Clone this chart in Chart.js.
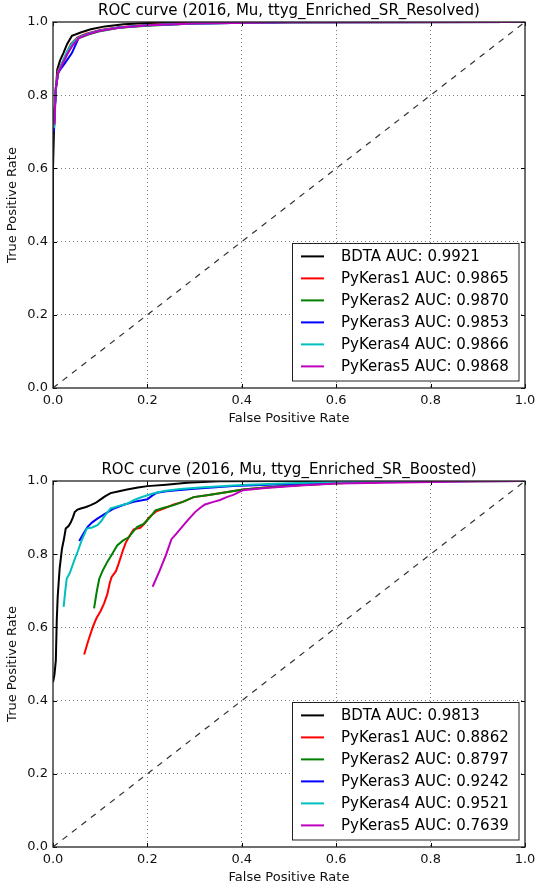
<!DOCTYPE html>
<html>
<head>
<meta charset="utf-8">
<script src="https://cdn.jsdelivr.net/npm/chart.js@4/dist/chart.umd.min.js"></script>
<style>
  html, body { margin: 0; padding: 0; background: #fff; }
  body { width: 536px; height: 886px; position: relative; overflow: hidden; }
  .box { position: absolute; left: 0; width: 536px; height: 427px; }
</style>
</head>
<body>
<div class="box" style="top:0"><canvas id="rocResolved" width="536" height="427"></canvas></div>
<div class="box" style="top:459px"><canvas id="rocBoosted" width="536" height="427"></canvas></div>
<script>
// ticks used on both axes
const tickVals = [0, 0.2, 0.4, 0.6, 0.8, 1.0];
const diagonal = [[0, 0], [1, 1]];

// --- Resolved region, points are [FPR, TPR]
const resolvedTitle = 'ROC curve (2016, Mu, ttyg_Enriched_SR_Resolved)';
const resolvedLabels = ['BDTA AUC: 0.9921', 'PyKeras1 AUC: 0.9865', 'PyKeras2 AUC: 0.9870',
  'PyKeras3 AUC: 0.9853', 'PyKeras4 AUC: 0.9866', 'PyKeras5 AUC: 0.9868'];
const resBDTA = [[0,0],[0,0.6],[0.003,0.75],[0.009,0.87],[0.015,0.895],[0.022,0.915],[0.03,0.94],[0.04,0.962],[0.06,0.972],[0.08,0.98],[0.11,0.988],[0.15,0.994],[0.2,0.997],[0.3,0.999],[0.5,1],[1,1]];
const resPK1 = [[0.002,0.71],[0.005,0.8],[0.01,0.865],[0.018,0.885],[0.027,0.91],[0.038,0.94],[0.052,0.958],[0.07,0.968],[0.1,0.978],[0.14,0.986],[0.2,0.992],[0.3,0.997],[0.5,0.999],[1,1]];
const resPK2 = [[0.002,0.72],[0.006,0.82],[0.011,0.86],[0.02,0.885],[0.03,0.912],[0.042,0.94],[0.055,0.956],[0.075,0.966],[0.1,0.975],[0.14,0.984],[0.2,0.99],[0.3,0.996],[0.5,0.999],[1,1]];
const resPK3 = [[0.002,0.7],[0.006,0.82],[0.011,0.862],[0.025,0.887],[0.04,0.915],[0.055,0.958],[0.075,0.968],[0.1,0.977],[0.14,0.985],[0.2,0.991],[0.3,0.996],[0.5,0.999],[1,1]];
const resPK4 = [[0.002,0.71],[0.006,0.82],[0.011,0.865],[0.02,0.89],[0.03,0.92],[0.042,0.945],[0.055,0.958],[0.075,0.968],[0.1,0.977],[0.14,0.985],[0.2,0.991],[0.3,0.996],[0.5,0.999],[1,1]];
const resPK5 = [[0.003,0.72],[0.006,0.82],[0.011,0.862],[0.02,0.885],[0.03,0.912],[0.042,0.937],[0.055,0.956],[0.075,0.967],[0.1,0.976],[0.14,0.984],[0.2,0.991],[0.3,0.996],[0.5,0.999],[1,1]];

// --- Boosted region
const boostedTitle = 'ROC curve (2016, Mu, ttyg_Enriched_SR_Boosted)';
const boostedLabels = ['BDTA AUC: 0.9813', 'PyKeras1 AUC: 0.8862', 'PyKeras2 AUC: 0.8797',
  'PyKeras3 AUC: 0.9242', 'PyKeras4 AUC: 0.9521', 'PyKeras5 AUC: 0.7639'];
const booBDTA = [[0,0.45],[0.003,0.47],[0.006,0.51],[0.008,0.62],[0.01,0.685],[0.014,0.76],[0.019,0.815],[0.023,0.84],[0.027,0.87],[0.033,0.877],[0.038,0.888],[0.042,0.9],[0.046,0.915],[0.052,0.922],[0.059,0.925],[0.07,0.929],[0.08,0.934],[0.09,0.94],[0.098,0.947],[0.11,0.958],[0.122,0.967],[0.14,0.972],[0.157,0.977],[0.18,0.982],[0.2,0.986],[0.24,0.99],[0.284,0.995],[0.35,0.999],[0.5,1],[1,1]];
const booPK1 = [[0.066,0.526],[0.075,0.565],[0.084,0.6],[0.092,0.625],[0.101,0.645],[0.108,0.665],[0.115,0.69],[0.12,0.72],[0.124,0.737],[0.133,0.753],[0.138,0.77],[0.143,0.79],[0.148,0.81],[0.154,0.831],[0.162,0.85],[0.171,0.868],[0.185,0.872],[0.195,0.885],[0.203,0.9],[0.212,0.91],[0.22,0.918],[0.235,0.925],[0.256,0.936],[0.275,0.943],[0.298,0.956],[0.33,0.962],[0.36,0.968],[0.403,0.977],[0.45,0.982],[0.5,0.987],[0.6,0.994],[0.7,0.997],[0.8,0.999],[1,1]];
const booPK2 = [[0.087,0.652],[0.093,0.7],[0.098,0.733],[0.106,0.757],[0.115,0.779],[0.125,0.8],[0.136,0.824],[0.148,0.837],[0.161,0.847],[0.17,0.862],[0.178,0.874],[0.192,0.883],[0.205,0.9],[0.217,0.92],[0.235,0.927],[0.256,0.934],[0.275,0.943],[0.298,0.956],[0.33,0.962],[0.36,0.968],[0.403,0.977],[0.45,0.982],[0.5,0.987],[0.6,0.994],[0.7,0.997],[0.8,0.999],[1,1]];
const booPK3 = [[0.0555,0.836],[0.065,0.857],[0.073,0.874],[0.083,0.887],[0.094,0.897],[0.11,0.91],[0.129,0.925],[0.15,0.935],[0.171,0.943],[0.2,0.95],[0.21,0.96],[0.22,0.968],[0.24,0.972],[0.263,0.975],[0.3,0.979],[0.382,0.986],[0.5,0.992],[0.6,0.996],[0.7,0.999],[1,1]];
const booPK4 = [[0.0225,0.656],[0.026,0.7],[0.029,0.733],[0.036,0.75],[0.0415,0.77],[0.047,0.79],[0.052,0.806],[0.06,0.835],[0.0717,0.87],[0.083,0.873],[0.094,0.879],[0.102,0.89],[0.108,0.902],[0.122,0.925],[0.14,0.932],[0.157,0.938],[0.172,0.948],[0.1855,0.955],[0.21,0.965],[0.235,0.973],[0.27,0.978],[0.312,0.982],[0.4,0.989],[0.5,0.994],[0.6,0.997],[0.8,0.999],[1,1]];
const booPK5 = [[0.211,0.711],[0.226,0.755],[0.24,0.8],[0.251,0.841],[0.262,0.857],[0.273,0.874],[0.287,0.895],[0.301,0.915],[0.312,0.927],[0.322,0.936],[0.34,0.943],[0.354,0.948],[0.368,0.956],[0.382,0.962],[0.403,0.975],[0.45,0.981],[0.523,0.988],[0.6,0.993],[0.7,0.995],[0.803,0.997],[0.9,0.999],[1,1]];

const colors = ['#000000', '#ff0000', '#008000', '#0000ff', '#00bfbf', '#bf00bf'];

Chart.defaults.font.family = '"DejaVu Sans", sans-serif';
Chart.defaults.color = '#111';

// frame, inside ticks, title and legend box drawn like matplotlib
const mplPlugin = {
  id: 'mpl',
  afterDatasetsDraw(chart, args, opts) {
    const { ctx, chartArea: a, scales: { x, y } } = chart;
    ctx.save();
    ctx.strokeStyle = '#000';
    ctx.lineWidth = 1;
    ctx.beginPath();
    tickVals.forEach(v => {
      const px = Math.round(x.getPixelForValue(v)) + 0.5;
      const py = Math.round(y.getPixelForValue(v)) + 0.5;
      ctx.moveTo(px, a.bottom); ctx.lineTo(px, a.bottom - 4);
      ctx.moveTo(px, a.top); ctx.lineTo(px, a.top + 4);
      ctx.moveTo(a.left, py); ctx.lineTo(a.left + 4, py);
      ctx.moveTo(a.right, py); ctx.lineTo(a.right - 4, py);
    });
    ctx.stroke();
    ctx.strokeStyle = '#222';
    ctx.lineWidth = 1.3;
    ctx.strokeRect(a.left, a.top, a.right - a.left, a.bottom - a.top);

    // title
    ctx.fillStyle = '#000';
    ctx.font = '15px "DejaVu Sans"';
    ctx.textAlign = 'center';
    ctx.textBaseline = 'middle';
    ctx.fillText(opts.title, (a.left + a.right) / 2, 11);

    // legend, lower right
    const w = 226.5, h = 137.5;
    const lx = a.right - 7 - w, ly = a.bottom - 7.5 - h;
    ctx.fillStyle = '#fff';
    ctx.fillRect(lx, ly, w, h);
    ctx.strokeStyle = '#222';
    ctx.lineWidth = 1;
    ctx.strokeRect(Math.round(lx) + 0.5, Math.round(ly) + 0.5, w, h);
    ctx.textAlign = 'left';
    opts.labels.forEach((lab, i) => {
      const cy = ly + 13.4 + i * 22;
      ctx.strokeStyle = colors[i];
      ctx.lineWidth = 2;
      ctx.beginPath();
      ctx.moveTo(lx + 9.5, cy); ctx.lineTo(lx + 32.5, cy);
      ctx.stroke();
      ctx.fillStyle = '#000';
      ctx.fillText(lab, lx + 49.5, cy + 1);
    });
    ctx.restore();
  }
};

function makeRoc(id, title, labels, series) {
  const datasets = series.map((s, i) => ({
    label: labels[i],
    data: s.map(p => ({ x: p[0], y: p[1] })),
    borderColor: colors[i],
    borderWidth: 2,
    pointRadius: 0,
    tension: 0,
    fill: false,
    order: series.length - i
  }));
  datasets.push({
    label: 'diag',
    data: diagonal.map(p => ({ x: p[0], y: p[1] })),
    borderColor: '#333',
    borderWidth: 1.2,
    borderDash: [6, 6],
    pointRadius: 0,
    fill: false,
    order: 10
  });

  const grid = {
    drawTicks: false,
    lineWidth: 1,
    color: c => (c.tick && (c.tick.value === 0 || c.tick.value === 1)) ? 'rgba(0,0,0,0)' : 'rgba(0,0,0,0.5)'
  };

  return new Chart(document.getElementById(id), {
    type: 'line',
    data: { datasets },
    plugins: [mplPlugin],
    options: {
      responsive: false,
      animation: false,
      devicePixelRatio: 1,
      layout: { padding: { top: 22, right: 11, left: 0, bottom: 0 } },
      plugins: {
        legend: { display: false },
        tooltip: { enabled: false },
        mpl: { title, labels }
      },
      scales: {
        x: {
          type: 'linear', min: 0, max: 1,
          afterFit: s => { s.height = 39; s.paddingLeft = 0; s.paddingRight = 0; },
          afterBuildTicks: s => { s.ticks = tickVals.map(v => ({ value: v })); },
          ticks: { padding: 5, font: { size: 13 }, color: '#111', maxRotation: 0, callback: v => v.toFixed(1) },
          grid,
          border: { display: false, dash: [1, 3] },
          title: { display: true, text: 'False Positive Rate', font: { size: 13 }, color: '#111', padding: { top: 0, bottom: 1 } }
        },
        y: {
          type: 'linear', min: 0, max: 1,
          afterFit: s => { s.width = 53; s.paddingTop = 0; s.paddingBottom = 0; },
          afterBuildTicks: s => { s.ticks = tickVals.map(v => ({ value: v })); },
          ticks: { padding: 5, font: { size: 13 }, color: '#111', callback: v => v.toFixed(1) },
          grid,
          border: { display: false, dash: [1, 3] },
          title: { display: true, text: 'True Positive Rate', font: { size: 13 }, color: '#111', padding: { top: 5, bottom: 0 } }
        }
      }
    }
  });
}

makeRoc('rocResolved', resolvedTitle, resolvedLabels, [resBDTA, resPK1, resPK2, resPK3, resPK4, resPK5]);
makeRoc('rocBoosted', boostedTitle, boostedLabels, [booBDTA, booPK1, booPK2, booPK3, booPK4, booPK5]);
</script>
</body>
</html>
